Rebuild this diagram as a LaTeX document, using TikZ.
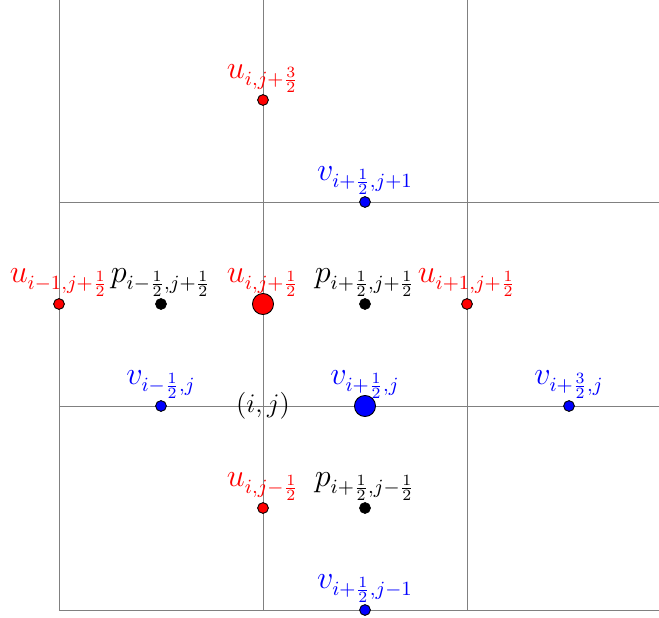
\documentclass[tikz,border=0pt]{standalone}
\begin{document}
\begin{tikzpicture}[x=3.2cm,y=3.2cm,
  gridline/.style={draw=gray, line width=0.4pt},
  dotsm/.style={circle, draw=black, line width=0.4pt, inner sep=0pt, minimum size=4.8pt},
  dotbig/.style={circle, draw=black, line width=0.4pt, inner sep=0pt, minimum size=9.4pt},
  lbl/.style={anchor=base, inner sep=0pt, font=\fontsize{13.5}{16}\selectfont}]
\useasboundingbox (-0.2892,-0.0343) rectangle (2.9412,2.9902);
% grid
\coordinate (v0b) at (0,0); \coordinate (v0t) at (0,2.9902);
\coordinate (v1b) at (1,0); \coordinate (v1t) at (1,2.9902);
\coordinate (v2b) at (2,0); \coordinate (v2t) at (2,2.9902);
\coordinate (h0l) at (0,0); \coordinate (h0r) at (2.9412,0);
\coordinate (h1l) at (0,1); \coordinate (h1r) at (2.9412,1);
\coordinate (h2l) at (0,2); \coordinate (h2r) at (2.9412,2);
\draw[gridline] (v0b) -- (v0t);
\draw[gridline] (v1b) -- (v1t);
\draw[gridline] (v2b) -- (v2t);
\draw[gridline] (h0l) -- (h0r);
\draw[gridline] (h1l) -- (h1r);
\draw[gridline] (h2l) -- (h2r);
% points
\node[dotsm, fill=red] (u1) at (1,2.5) {};
\node[dotsm, fill=blue] (v1) at (1.5,2) {};
\node[dotsm, fill=red] (u2) at (0,1.5) {};
\node[dotsm, fill=black] (p1) at (0.5,1.5) {};
\node[dotbig, fill=red] (u3) at (1,1.5) {};
\node[dotsm, fill=black] (p2) at (1.5,1.5) {};
\node[dotsm, fill=red] (u4) at (2,1.5) {};
\node[dotsm, fill=blue] (v2) at (0.5,1) {};
\node[dotbig, fill=blue] (v3) at (1.5,1) {};
\node[dotsm, fill=blue] (v4) at (2.5,1) {};
\node[dotsm, fill=red] (u5) at (1,0.5) {};
\node[dotsm, fill=black] (p3) at (1.5,0.5) {};
\node[dotsm, fill=blue] (v5) at (1.5,0) {};
\node[font=\large] (ij) at (1,1) {$(i,j)$};
% labels
\node[lbl, text=red] (lu1) at ([yshift=9.8pt]u1.center) {$u_{i,j+\frac{3}{2}}$};
\node[lbl, text=blue] (lv1) at ([yshift=9.8pt]v1.center) {$v_{i+\frac{1}{2},j+1}$};
\node[lbl, text=red] (lu2) at ([yshift=9.8pt]u2.center) {$u_{i-1,j+\frac{1}{2}}$};
\node[lbl, text=black] (lp1) at ([yshift=9.8pt]p1.center) {$p_{i-\frac{1}{2},j+\frac{1}{2}}$};
\node[lbl, text=red] (lu3) at ([yshift=9.8pt]u3.center) {$u_{i,j+\frac{1}{2}}$};
\node[lbl, text=black] (lp2) at ([yshift=9.8pt]p2.center) {$p_{i+\frac{1}{2},j+\frac{1}{2}}$};
\node[lbl, text=red] (lu4) at ([yshift=9.8pt]u4.center) {$u_{i+1,j+\frac{1}{2}}$};
\node[lbl, text=blue] (lv2) at ([yshift=9.8pt]v2.center) {$v_{i-\frac{1}{2},j}$};
\node[lbl, text=blue] (lv3) at ([yshift=9.8pt]v3.center) {$v_{i+\frac{1}{2},j}$};
\node[lbl, text=blue] (lv4) at ([yshift=9.8pt]v4.center) {$v_{i+\frac{3}{2},j}$};
\node[lbl, text=red] (lu5) at ([yshift=9.8pt]u5.center) {$u_{i,j-\frac{1}{2}}$};
\node[lbl, text=black] (lp3) at ([yshift=9.8pt]p3.center) {$p_{i+\frac{1}{2},j-\frac{1}{2}}$};
\node[lbl, text=blue] (lv5) at ([yshift=9.8pt]v5.center) {$v_{i+\frac{1}{2},j-1}$};
\end{tikzpicture}
\end{document}
